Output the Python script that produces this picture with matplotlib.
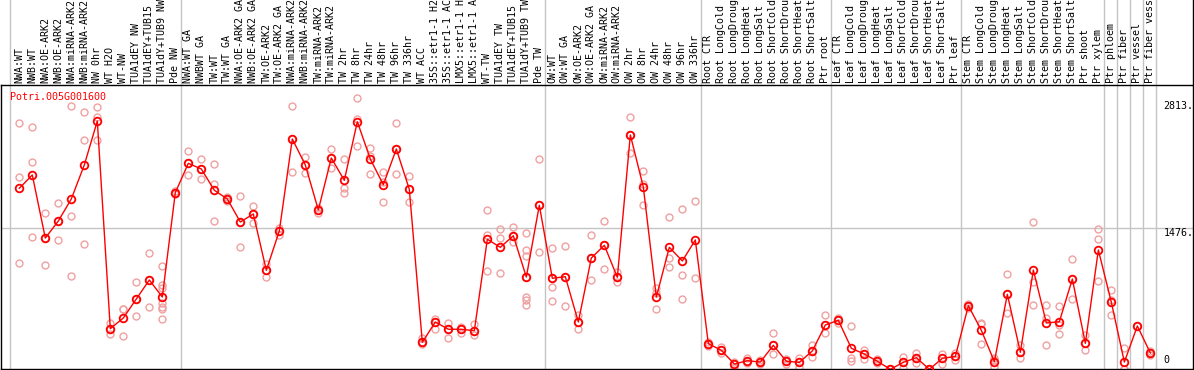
import matplotlib
matplotlib.use('Agg')
import matplotlib.pyplot as plt
import matplotlib.transforms as mtransforms
from matplotlib.lines import Line2D

gene = 'Potri.005G001600'

labels = [
    'NWA:WT', 'NWB:WT', 'NWA:OE-ARK2', 'NWB:OE-ARK2', 'NWA:miRNA-ARK2', 'NWB:miRNA-ARK2',
    'NW 0hr', 'WT H2O', 'WT-NW', 'TUA1dEY NW', 'TUA1dEY+TUB15 NW', 'TUA1dY+TUB9 NW', 'Pde NW',
    'NWA:WT GA', 'NWBWT GA', 'TW:WT', 'TW:WT GA', 'NWA:OE-ARK2 GA', 'NWB:OE-ARK2 GA',
    'TW:OE-ARK2', 'TW:OE-ARK2 GA', 'NWA:miRNA-ARK2 GA', 'NWB:miRNA-ARK2 GA', 'TW:miRNA-ARK2',
    'TW:miRNA-ARK2 GA', 'TW 2hr', 'TW 8hr', 'TW 24hr', 'TW 48hr', 'TW 96hr', 'TW 336hr',
    'WT ACC', '35S::etr1-1 H2O', '35S::etr1-1 ACC', 'LMX5::etr1-1 H2O', 'LMX5::etr1-1 ACC',
    'WT-TW', 'TUA1dEY TW', 'TUA1dEY+TUB15 TW', 'TUA1dY+TUB9 TW', 'Pde TW',
    'OW:WT', 'OW:WT GA', 'OW:OE-ARK2', 'OW:OE-ARK2 GA', 'OW:miRNA-ARK2', 'OW:miRNA-ARK2 GA',
    'OW 2hr', 'OW 8hr', 'OW 24hr', 'OW 48hr', 'OW 96hr', 'OW 336hr',
    'Root CTR', 'Root LongCold', 'Root LongDrought', 'Root LongHeat', 'Root LongSalt',
    'Root ShortCold', 'Root ShortDrought', 'Root ShortHeat', 'Root ShortSalt', 'Ptr root',
    'Leaf CTR', 'Leaf LongCold', 'Leaf LongDrought', 'Leaf LongHeat', 'Leaf LongSalt',
    'Leaf ShortCold', 'Leaf ShortDrought', 'Leaf ShortHeat', 'Leaf ShortSalt', 'Ptr leaf',
    'Stem CTR', 'Stem LongCold', 'Stem LongDrought', 'Stem LongHeat', 'Stem LongSalt',
    'Stem ShortCold', 'Stem ShortDrought', 'Stem ShortHeat', 'Stem ShortSalt', 'Ptr shoot',
    'Ptr xylem', 'Ptr phloem', 'Ptr fiber', 'Ptr vessel', 'Ptr fiber vessel',
]

means = [
    1895, 2034, 1374, 1552, 1783, 2139, 2599, 425, 537, 736, 935, 757, 1849,
    2156, 2097, 1874, 1783, 1542, 1626, 1036, 1448, 2411, 2139, 1668, 2212, 1978,
    2592, 2201, 1932, 2306, 1884, 283, 495, 419, 419, 404, 1361, 1277, 1398, 966, 1717,
    953, 969, 495, 1165, 1298, 963, 2453, 1908, 757, 1277, 1134, 1354,
    268, 199, 55, 90, 76, 251, 84, 73, 192, 464,
    513, 220, 160, 84, 0, 73, 121, 0, 115, 134,
    666, 408, 80, 785, 178, 1039, 485, 498, 945, 272, 1249,
    701, 76, 453, 171,
]

replicates = [
    [2575, 2010, 1110], [2533, 2167, 1382], [1633, 1374, 1089], [1738, 1552, 1354],
    [2759, 1605, 977], [2690, 2400, 1309], [2743, 2644, 2400], [488, 425, 370],
    [631, 631, 349], [911, 736, 558], [1214, 935, 652],
    [1081, 882, 848, 691, 655, 631, 527], [1866, 1842, 1840],
    [2285, 2156, 2034], [2201, 2097, 1989], [2149, 1940, 1552], [1804, 1783, 1762],
    [1814, 1542, 1277], [1709, 1626, 1528], [1102, 1036, 969], [1476, 1448, 1406],
    [2753, 2411, 2062], [2222, 2139, 2052], [1685, 1668, 1633], [2306, 2212, 2104],
    [2201, 1895, 1842], [2837, 2617, 2334], [2313, 2233, 2041], [2062, 1964, 1751],
    [2575, 2306, 2041], [2023, 1884, 1751], [325, 283, 262], [523, 495, 419],
    [485, 419, 325], [446, 419, 380], [471, 404, 359], [1664, 1406, 1029],
    [1469, 1371, 1005], [1486, 1398, 1336],
    [1424, 1249, 1189, 969, 760, 725, 673], [2198, 1717, 1225],
    [1267, 953, 858, 712], [1288, 969, 663], [568, 495, 419], [1403, 1165, 932],
    [1552, 1298, 1050], [1022, 963, 917], [2638, 2453, 2261], [2073, 1940, 1717],
    [848, 796, 628], [1591, 1162, 1074], [1675, 984, 733], [1759, 953],
    [283, 268, 241], [230, 199, 171], [76, 55, 23], [118, 87, 66], [93, 76, 55],
    [377, 251, 157], [108, 84, 59], [118, 73, 27], [254, 192, 126], [568, 464, 383],
    [540, 513, 488], [453, 121, 87], [202, 160, 108], [108, 84, 63], [0, 0, 0],
    [132, 73, 17], [167, 121, 69], [0, 0, 0], [157, 115, 52], [167, 134, 93],
    [687, 666, 639], [485, 474, 265], [120, 100, 20], [994, 785, 592], [254, 178, 115],
    [1542, 911, 670], [670, 540, 254], [659, 464, 370], [1151, 945, 733],
    [359, 272, 202], [1469, 1361, 924],
    [830, 725, 568], [220, 0, 0], [453], [192, 171, 150],
]

group_ends = [12, 40, 52, 62, 72, 83, 84, 85, 86, 87]
tick_values = [2813, 1476, 0]
tick_labels = ['2813.', '1476.', '0']

W, H = 1194, 370
fig = plt.figure(figsize=(W / 100, H / 100), dpi=100)
ax = fig.add_axes([1 / W, 0.7 / H, 1192 / W, 284.3 / H])
ax.set_xlim(-1.408, 90.28)
ax.set_ylim(0, 2976)
ax.set_xticks([])
ax.set_yticks([])
for s in ax.spines.values():
    s.set_color('black')
    s.set_linewidth(1)

grid_c = '#c4c4c4'
top_ext = 1 + 85 / 284.3
ax.axhline(1476, color=grid_c, lw=1, zorder=1)
ax.axvline(-0.7, ymin=0, ymax=top_ext, color=grid_c, lw=1, clip_on=False, zorder=1)
for g in group_ends:
    ax.axvline(g + 0.4, ymin=0, ymax=top_ext, color=grid_c, lw=1, clip_on=False, zorder=1)

# right border above the plot
fig.add_artist(Line2D([1193 / W, 1193 / W], [285 / H, 1], color='black', lw=1))

# replicate points
for i, reps in enumerate(replicates):
    ax.plot([i] * len(reps), reps, 'o', mfc='none', mec='#f0a0a0', ms=5, mew=1, zorder=2)

# mean line
ax.plot(range(len(means)), means, '-', color='red', lw=1, marker='o', mfc='none',
        mec='red', ms=5.5, mew=1.3, zorder=3)

mono = 'DejaVu Sans Mono'
trans = mtransforms.blended_transform_factory(ax.transData, ax.transAxes)
for i, lab in enumerate(labels):
    ax.text(i, 1 + 2 / 284.3, lab, transform=trans, rotation=90, ha='center', va='bottom',
            family=mono, fontsize=7.2, color='black', clip_on=False)

for v, t in zip(tick_values, tick_labels):
    ax.text(88.0, v + (40 if v == 0 else 0), t, ha='left', va='bottom' if v == 0 else 'top',
            family=mono, fontsize=7.2, color='black')

ax.text(-0.72, (369.3 - 97.3) / 284.3, gene, transform=trans, ha='left', va='center',
        family=mono, fontsize=7.2, color='red')

fig.savefig('out.png', dpi=100)
